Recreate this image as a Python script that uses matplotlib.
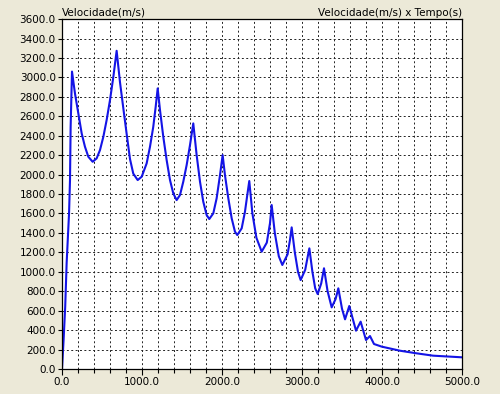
import matplotlib
matplotlib.use('Agg')
import matplotlib.pyplot as plt
from matplotlib.ticker import MultipleLocator, FormatStrFormatter

# tempo (s) e velocidade (m/s)
tempo = [0, 20, 40, 58, 88, 100, 108, 125,
         162, 204, 246, 287, 329, 383, 433, 475, 517, 558, 600, 642, 683,
         725, 767, 808, 850, 891, 946, 996, 1058, 1100, 1141, 1171, 1196,
         1225, 1266, 1308, 1350, 1391, 1433, 1475, 1516, 1558, 1600, 1641,
         1683, 1725, 1766, 1808, 1841, 1891, 1933, 1975, 2008,
         2037, 2079, 2121, 2162, 2191, 2246, 2287, 2316, 2341,
         2380, 2430, 2496, 2560, 2600, 2621,
         2660, 2710, 2754, 2820, 2850, 2871,
         2910, 2950, 2983, 3040, 3070, 3092,
         3130, 3165, 3196, 3240, 3275,
         3320, 3371, 3420, 3454,
         3500, 3538, 3591, 3675, 3733, 3800, 3850, 3900,
         3996, 4225, 4433, 4638, 5000]
velocidade = [0, 300, 640, 1090, 1600, 1944, 2490, 3060,
              2836, 2630, 2424, 2287, 2184, 2132, 2167, 2253, 2390, 2561, 2767, 3007, 3274,
              2950, 2680, 2420, 2160, 2010, 1944, 1978, 2115, 2287, 2493, 2698, 2887,
              2664, 2390, 2150, 1944, 1807, 1738, 1790, 1927, 2098, 2304, 2527,
              2201, 1927, 1721, 1584, 1543, 1601, 1756, 1995, 2201,
              1995, 1756, 1550, 1413, 1378, 1447, 1618, 1790, 1934,
              1600, 1350, 1207, 1300, 1500, 1687,
              1400, 1160, 1070, 1180, 1330, 1457,
              1200, 1000, 915, 1020, 1150, 1241,
              1000, 830, 771, 880, 1036,
              800, 634, 720, 830,
              620, 511, 648, 394, 487, 298, 339, 257,
              230, 188, 161, 137, 120]

bg = '#ece9d8'
fig = plt.figure(figsize=(5.0, 3.94), dpi=100, facecolor=bg)
ax = fig.add_axes([0.124, 0.0635, 0.8, 0.888])
ax.set_facecolor('white')

ax.plot(tempo, velocidade, color='#1414e6', linewidth=1.5)

ax.set_xlim(0, 5000)
ax.set_ylim(0, 3600)
ax.xaxis.set_major_locator(MultipleLocator(1000))
ax.xaxis.set_minor_locator(MultipleLocator(200))
ax.yaxis.set_major_locator(MultipleLocator(200))
ax.xaxis.set_major_formatter(FormatStrFormatter('%.1f'))
ax.yaxis.set_major_formatter(FormatStrFormatter('%.1f'))
ax.tick_params(axis='both', which='both', direction='out', length=3, width=0.8,
               labelsize=7.5, colors='black', pad=1.5)
ax.tick_params(axis='x', which='major', length=4)

ax.grid(True, which='both', color='#222222', linestyle=(0, (2, 2.5)), linewidth=0.7)
for s in ax.spines.values():
    s.set_color('black')
    s.set_linewidth(0.9)

fig.text(0.124, 0.955, 'Velocidade(m/s)', fontsize=7.5, ha='left', va='bottom')
fig.text(0.924, 0.955, 'Velocidade(m/s) x Tempo(s)', fontsize=7.5, ha='right', va='bottom')

fig.savefig('out.png', dpi=100, facecolor=bg)
